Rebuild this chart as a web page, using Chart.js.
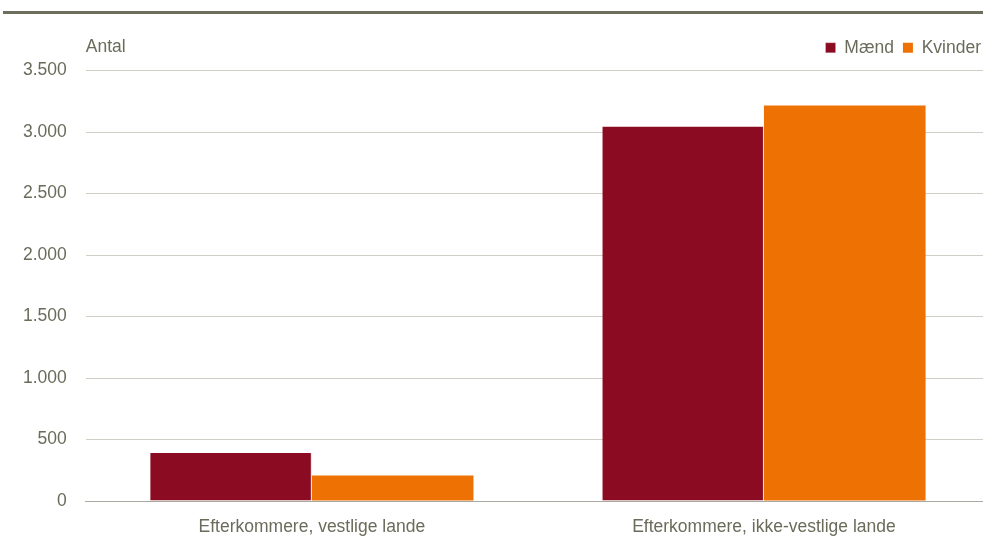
<!DOCTYPE html>
<html><head><meta charset="utf-8">
<script src="https://cdn.jsdelivr.net/npm/chart.js@4/dist/chart.umd.min.js"></script>
<style>
html,body{margin:0;padding:0;background:#fff;overflow:hidden;width:983px;height:544px;}
#rule{position:absolute;left:3px;top:11px;width:980px;height:3px;background:#6e6e5c;}
#wrap{position:absolute;left:0;top:0;width:990px;height:544px;}
</style></head><body>
<div id="rule"></div>
<div id="wrap"><canvas id="c" width="990" height="544"></canvas></div>
<script>
const categories = ["Efterkommere, vestlige lande", "Efterkommere, ikke-vestlige lande"];
const maend = [390, 3045];
const kvinder = [207, 3215];
const seriesNames = ["Mænd", "Kvinder"];
const yAxisLabel = "Antal";
const yTicks = [0, 500, 1000, 1500, 2000, 2500, 3000, 3500];

const FONT = '"Liberation Sans Narrow", "Arial Narrow", "Liberation Sans", sans-serif';
const FS = 17.5;
const TXT = '#6b6b5b';
function fmt(v){ return String(v).replace(/\B(?=(\d{3})+(?!\d))/g, '.'); }

const antalPlugin = {
  id: 'antal',
  afterInit(chart){
    const lg = chart.legend;
    if (lg) {
      const orig = lg.fit;
      lg.fit = function(){ orig.call(this); this.height += 4; };
    }
  },
  afterDraw(chart){
    const ctx = chart.ctx, a = chart.chartArea;
    ctx.save();
    ctx.font = FS + 'px ' + FONT;
    ctx.fillStyle = TXT;
    ctx.textAlign = 'left';
    ctx.textBaseline = 'middle';
    ctx.fillText(yAxisLabel, a.left, 47);
    ctx.restore();
  }
};

new Chart(document.getElementById('c'), {
  type: 'bar',
  data: {
    labels: categories,
    datasets: [
      {label: seriesNames[0], data: maend, backgroundColor: '#8b0c22', borderColor: '#f3d9dc', borderWidth: {top:0,left:0,bottom:0,right:1}, borderSkipped: false},
      {label: seriesNames[1], data: kvinder, backgroundColor: '#ee7203', borderColor: '#fbe3cc', borderWidth: {top:0,left:0,bottom:0,right:0}, borderSkipped: false}
    ]
  },
  options: {
    responsive: false,
    animation: false,
    layout: {padding: {top: 30, right: 0, left: 4, bottom: -10}},
    datasets: {bar: {categoryPercentage: 0.715, barPercentage: 1.0}},
    plugins: {
      legend: {
        position: 'top', align: 'end',
        labels: {boxWidth: 10, boxHeight: 10, font: {family: FONT, size: FS}, color: TXT, padding: 9},
        onClick: null
      },
      tooltip: {enabled: false}
    },
    scales: {
      x: {
        grid: {display: false, drawTicks: false},
        border: {display: true, color: '#a9a9a0', width: 1},
        ticks: {font: {family: FONT, size: FS}, color: TXT, padding: 16}
      },
      y: {
        min: 0, max: 3500,
        afterBuildTicks(axis){ axis.ticks = yTicks.map(v => ({value: v})); },
        grid: {color: (c) => c.tick && c.tick.value === 0 ? '#a9a9a0' : '#cfcfc6', drawTicks: false, lineWidth: 1},
        border: {display: false},
        ticks: {font: {family: FONT, size: FS}, color: TXT, padding: 19, callback: (v) => fmt(v)}
      }
    }
  },
  plugins: [antalPlugin]
});
</script>
</body></html>
